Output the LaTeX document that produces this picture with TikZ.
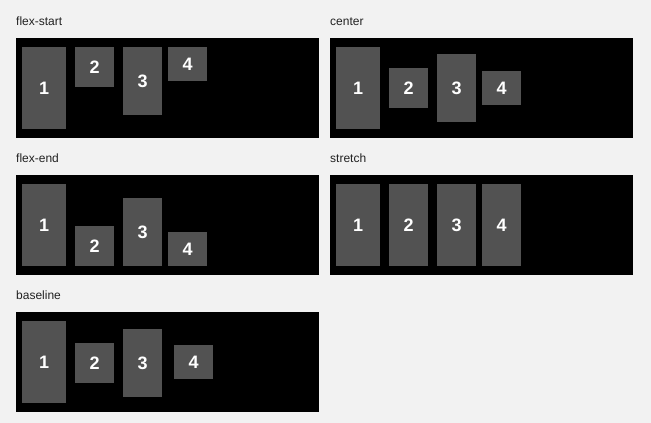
\documentclass[tikz,border=0pt]{standalone}
\usepackage{fontspec}
\setmainfont{Liberation Sans}
\definecolor{bgc}{HTML}{F2F2F2}
\definecolor{itemc}{HTML}{525252}
\definecolor{labelc}{HTML}{222222}
\tikzset{
  panel/.style={fill=black, draw=none, anchor=north west, minimum width=303, minimum height=100, inner sep=0pt},
  item/.style={fill=itemc, draw=none, anchor=north west, inner sep=0pt, text=white, font=\bfseries\fontsize{18}{18}\selectfont},
  wide/.style={minimum width=44},
  narrow/.style={minimum width=39},
  ttl/.style={anchor=base west, inner sep=0pt, text=labelc, font=\fontsize{12}{14}\selectfont}
}
\begin{document}
\begin{tikzpicture}[x=1pt,y=-1pt]
\fill[bgc] (0,0) rectangle (651,423);
\useasboundingbox (0,0) rectangle (651,423);
% flex-start
\node[ttl] (t1) at (16,25) {flex-start};
\node[panel] (p1) at (16,38) {};
\node[item,wide,minimum height=82] (a1) at (22,47) {1};
\node[item,narrow,minimum height=40] (a2) at (75,47) {2};
\node[item,narrow,minimum height=68] (a3) at (123,47) {3};
\node[item,narrow,minimum height=34] (a4) at (168,47) {4};
% center
\node[ttl] (t2) at (330,25) {center};
\node[panel] (p2) at (330,38) {};
\node[item,wide,minimum height=82] (b1) at (336,47) {1};
\node[item,narrow,minimum height=40] (b2) at (389,68) {2};
\node[item,narrow,minimum height=68] (b3) at (437,54) {3};
\node[item,narrow,minimum height=34] (b4) at (482,71) {4};
% flex-end
\node[ttl] (t3) at (16,162) {flex-end};
\node[panel] (p3) at (16,175) {};
\node[item,wide,minimum height=82] (c1) at (22,184) {1};
\node[item,narrow,minimum height=40] (c2) at (75,226) {2};
\node[item,narrow,minimum height=68] (c3) at (123,198) {3};
\node[item,narrow,minimum height=34] (c4) at (168,232) {4};
% stretch
\node[ttl] (t4) at (330,162) {stretch};
\node[panel] (p4) at (330,175) {};
\node[item,wide,minimum height=82] (d1) at (336,184) {1};
\node[item,narrow,minimum height=82] (d2) at (389,184) {2};
\node[item,narrow,minimum height=82] (d3) at (437,184) {3};
\node[item,narrow,minimum height=82] (d4) at (482,184) {4};
% baseline
\node[ttl] (t5) at (16,299) {baseline};
\node[panel] (p5) at (16,312) {};
\node[item,wide,minimum height=82] (e1) at (22,321) {1};
\node[item,narrow,minimum height=40] (e2) at (75,343) {2};
\node[item,narrow,minimum height=68] (e3) at (123,329) {3};
\node[item,narrow,minimum height=34] (e4) at (174,345) {4};
\end{tikzpicture}
\end{document}
